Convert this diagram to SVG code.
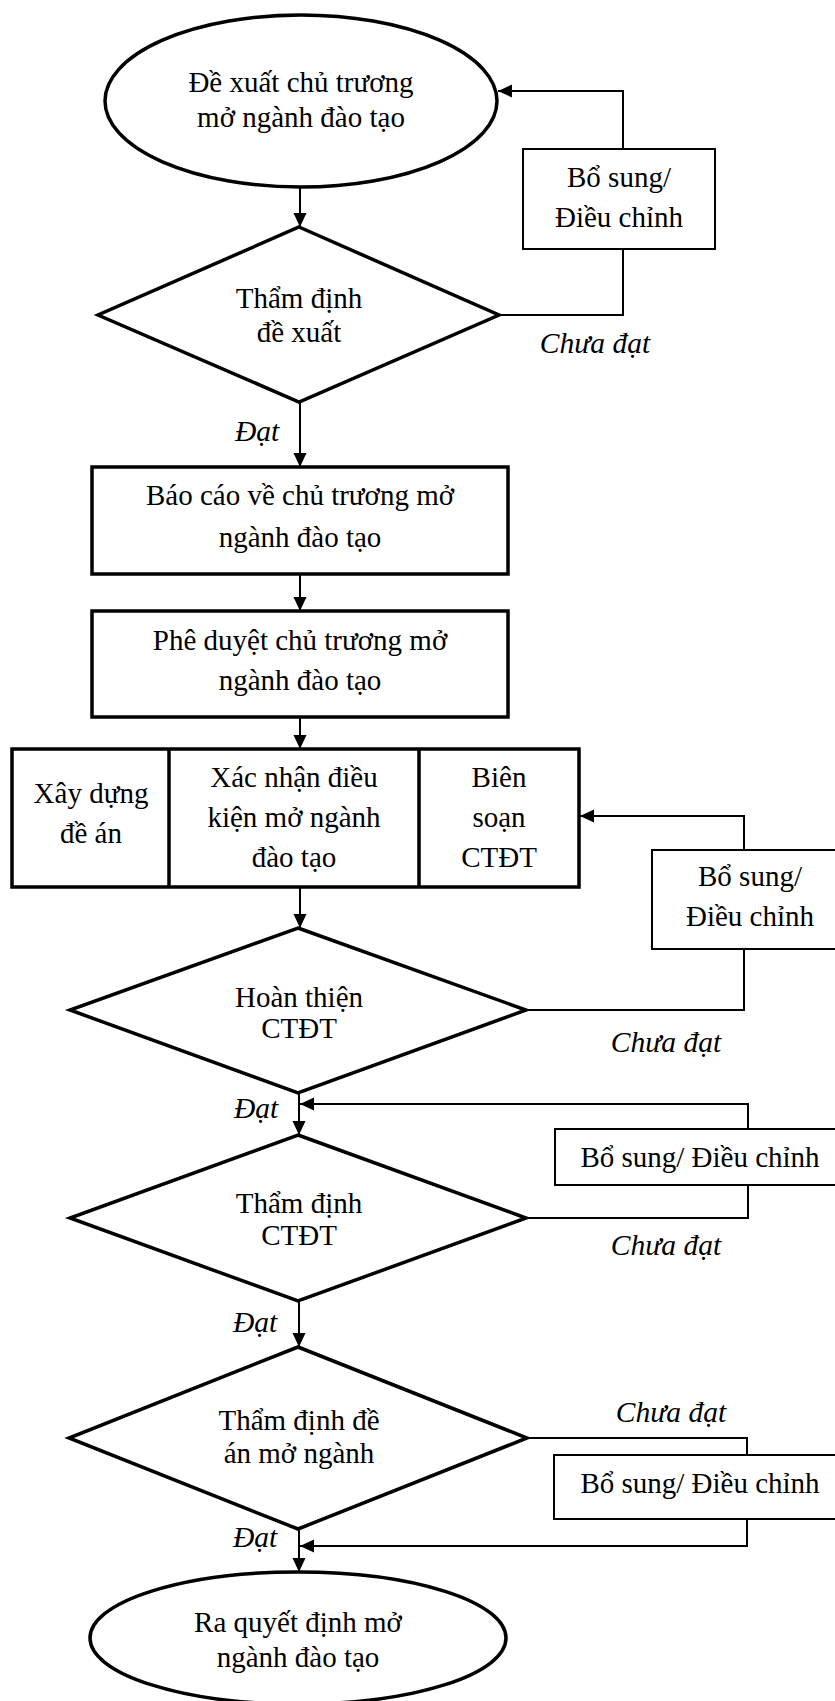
<svg xmlns="http://www.w3.org/2000/svg" width="835" height="1701" viewBox="0 0 835 1701">
<defs>
<marker id="ah" markerUnits="userSpaceOnUse" markerWidth="15" markerHeight="14" refX="14" refY="6.5" orient="auto">
<path d="M0,0 L14,6.5 L0,13 z" fill="#000"/>
</marker>
<style>
.t{font-family:"Liberation Serif","Times New Roman",serif;font-size:29px;fill:#000;text-anchor:middle}
.i{font-family:"Liberation Serif","Times New Roman",serif;font-size:29.5px;font-style:italic;fill:#000;text-anchor:middle}
.thick{fill:#fff;stroke:#000;stroke-width:3.5}
.thin{fill:#fff;stroke:#000;stroke-width:2}
.c{fill:none;stroke:#000;stroke-width:2}
.ca{fill:none;stroke:#000;stroke-width:2;marker-end:url(#ah)}
</style>
</defs>
<rect width="835" height="1701" fill="#fff"/>
<g id="connectors">
<path class="ca" d="M300,187 V227"/>
<path class="c" d="M499,315 H623 V249"/>
<path class="ca" d="M623,149 V91 H498"/>
<path class="ca" d="M300,402 V467"/>
<path class="ca" d="M300,574 V611"/>
<path class="ca" d="M300,717 V749"/>
<path class="ca" d="M300,887 V928"/>
<path class="c" d="M526,1010 H744 V949"/>
<path class="ca" d="M744,850 V816 H580"/>
<path class="ca" d="M299,1093 V1135"/>
<path class="c" d="M526,1218 H748 V1185"/>
<path class="ca" d="M748,1129 V1104 H300"/>
<path class="ca" d="M299,1301 V1347"/>
<path class="c" d="M527,1438 H747 V1455"/>
<path class="ca" d="M747,1519 V1546 H300"/>
<path class="ca" d="M299,1529 V1572"/>
</g>
<g id="start">
<ellipse class="thick" cx="301" cy="101" rx="196" ry="86"/>
<text class="t" x="301" y="92">Đề xuất chủ trương</text>
<text class="t" x="301" y="127">mở ngành đào tạo</text>
</g>
<g id="fix1">
<rect class="thin" x="523" y="149" width="192" height="100"/>
<text class="t" x="619" y="187">Bổ sung/</text>
<text class="t" x="619" y="227">Điều chỉnh</text>
</g>
<g id="d1">
<polygon class="thick" points="299,227 499,315 299,402 98,315"/>
<text class="t" x="299" y="308">Thẩm định</text>
<text class="t" x="299" y="342">đề xuất</text>
</g>
<g id="labels">
<text class="i" x="595" y="353">Chưa đạt</text>
<text class="i" x="257" y="441">Đạt</text>
<text class="i" x="666" y="1052">Chưa đạt</text>
<text class="i" x="256" y="1118">Đạt</text>
<text class="i" x="666" y="1255">Chưa đạt</text>
<text class="i" x="255" y="1332">Đạt</text>
<text class="i" x="671" y="1422">Chưa đạt</text>
<text class="i" x="255" y="1547">Đạt</text>
</g>
<g id="box1">
<rect class="thick" x="92" y="467" width="416" height="107"/>
<text class="t" x="300" y="505">Báo cáo về chủ trương mở</text>
<text class="t" x="300" y="547">ngành đào tạo</text>
</g>
<g id="box2">
<rect class="thick" x="92" y="611" width="416" height="106"/>
<text class="t" x="300" y="650">Phê duyệt chủ trương mở</text>
<text class="t" x="300" y="690">ngành đào tạo</text>
</g>
<g id="bigbox">
<rect class="thick" x="12" y="749" width="567" height="138"/>
<line x1="169" y1="749" x2="169" y2="887" stroke="#000" stroke-width="3.5"/>
<line x1="419" y1="749" x2="419" y2="887" stroke="#000" stroke-width="3.5"/>
<text class="t" x="91" y="803">Xây dựng</text>
<text class="t" x="91" y="843">đề án</text>
<text class="t" x="294" y="787">Xác nhận điều</text>
<text class="t" x="294" y="827">kiện mở ngành</text>
<text class="t" x="294" y="867">đào tạo</text>
<text class="t" x="499" y="787">Biên</text>
<text class="t" x="499" y="827">soạn</text>
<text class="t" x="499" y="867">CTĐT</text>
</g>
<g id="fix2">
<rect class="thin" x="652" y="850" width="196" height="99"/>
<text class="t" x="750" y="886">Bổ sung/</text>
<text class="t" x="750" y="926">Điều chỉnh</text>
</g>
<g id="d2">
<polygon class="thick" points="298,928 526,1010 298,1093 70,1010"/>
<text class="t" x="299" y="1007">Hoàn thiện</text>
<text class="t" x="299" y="1038">CTĐT</text>
</g>
<g id="fix3">
<rect class="thin" x="555" y="1129" width="293" height="56"/>
<text class="t" x="700" y="1167">Bổ sung/ Điều chỉnh</text>
</g>
<g id="d3">
<polygon class="thick" points="298,1135 526,1218 298,1301 70,1218"/>
<text class="t" x="299" y="1213">Thẩm định</text>
<text class="t" x="299" y="1245">CTĐT</text>
</g>
<g id="d4">
<polygon class="thick" points="298,1347 527,1438 298,1529 69,1438"/>
<text class="t" x="299" y="1430">Thẩm định đề</text>
<text class="t" x="299" y="1463">án mở ngành</text>
</g>
<g id="fix4">
<rect class="thin" x="554" y="1455" width="294" height="64"/>
<text class="t" x="700" y="1493">Bổ sung/ Điều chỉnh</text>
</g>
<g id="end">
<ellipse class="thick" cx="298" cy="1638" rx="208" ry="66"/>
<text class="t" x="298" y="1632">Ra quyết định mở</text>
<text class="t" x="298" y="1667">ngành đào tạo</text>
</g>
</svg>
